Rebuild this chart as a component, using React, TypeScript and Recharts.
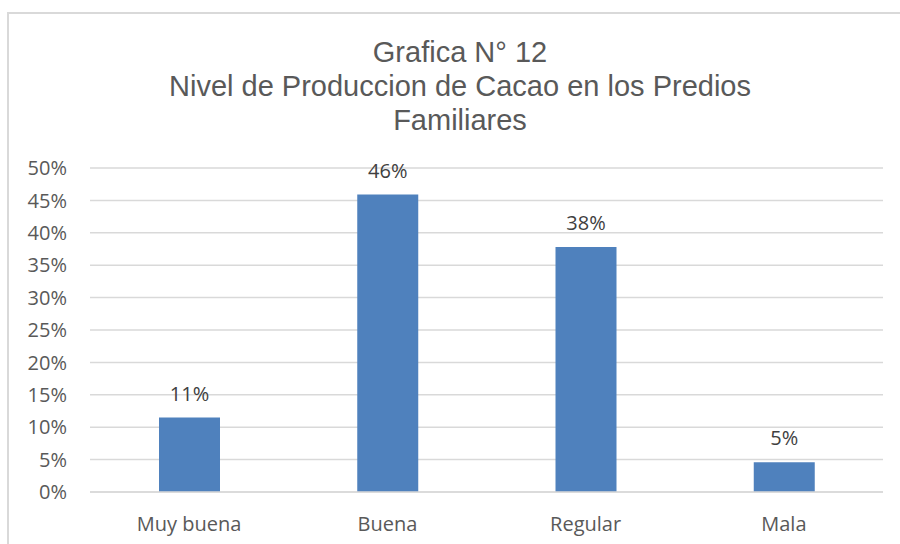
import React from "react";
import { BarChart, Bar, XAxis, YAxis, CartesianGrid, LabelList } from "recharts";

const categories = ["Muy buena", "Buena", "Regular", "Mala"];
const values = [0.1148, 0.459, 0.378, 0.046];
const yTicks = [0, 0.05, 0.1, 0.15, 0.2, 0.25, 0.3, 0.35, 0.4, 0.45, 0.5];
const titleLines = ["Grafica N° 12", "Nivel de Produccion de Cacao en los Predios", "Familiares"];

const data = categories.map((c, i) => ({ name: c, value: values[i] }));
const pct = (v: number) => `${Math.round(v * 100)}%`;

export default function App() {
  return (
    <div
      style={{
        position: "fixed",
        left: 0,
        top: 0,
        width: 900,
        height: 544,
        overflow: "hidden",
        background: "#ffffff",
      }}
    >
      <div
        style={{
          position: "absolute",
          left: 7,
          top: 12,
          width: 893,
          height: 532,
          borderLeft: "2px solid #d9d9d9",
          borderTop: "2px solid #d9d9d9",
          boxSizing: "border-box",
        }}
      />
      <svg width={900} height={170} style={{ position: "absolute", left: 0, top: 0 }}>
        {titleLines.map((t, i) => (
          <text
            key={i}
            x={460}
            y={62 + i * 34}
            textAnchor="middle"
            fill="#595959"
            style={{ fontFamily: "'Liberation Sans', Arial, sans-serif", fontSize: 29 }}
          >
            {t}
          </text>
        ))}
      </svg>
      <div style={{ position: "absolute", left: 8, top: 8 }}>
        <BarChart
          width={892}
          height={536}
          data={data}
          margin={{ top: 160, right: 17, bottom: 0, left: 0 }}
          style={{ fontFamily: "'Open Sans', sans-serif" }}
        >
          <CartesianGrid vertical={false} stroke="#d9d9d9" strokeWidth={1.5} />
          <XAxis
            dataKey="name"
            height={52}
            tickLine={false}
            tickSize={0}
            tickMargin={25}
            axisLine={{ stroke: "#d9d9d9", strokeWidth: 1.5 }}
            tick={{ fill: "#595959", fontSize: 20 }}
          />
          <YAxis
            width={82}
            domain={[0, 0.5]}
            ticks={yTicks}
            tickFormatter={pct}
            axisLine={false}
            tickLine={false}
            tickSize={0}
            tickMargin={23}
            tick={{ fill: "#595959", fontSize: 20 }}
          />
          <Bar dataKey="value" fill="#4f81bd" barSize={61} isAnimationActive={false}>
            <LabelList
              dataKey="value"
              position="top"
              offset={17}
              formatter={(v: any) => pct(Number(v))}
              style={{ fill: "#404040", fontSize: 20 }}
            />
          </Bar>
        </BarChart>
      </div>
    </div>
  );
}
